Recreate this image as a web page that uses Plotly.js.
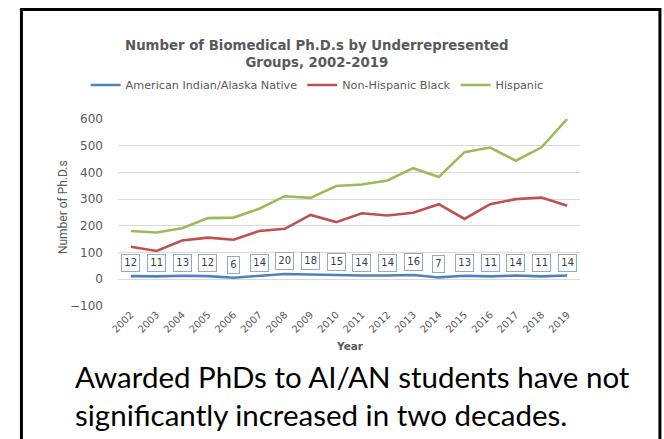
<!DOCTYPE html>
<html>
<head>
<meta charset="utf-8">
<script src="https://cdn.plot.ly/plotly-3.0.1.min.js"></script>
<style>html,body{margin:0;padding:0;background:#fff;}#chart{width:664px;height:439px;}</style>
</head>
<body>
<div id="chart"></div>
<script>
var years = ["2002","2003","2004","2005","2006","2007","2008","2009","2010","2011","2012","2013","2014","2015","2016","2017","2018","2019"];
var aian = [12,11,13,12,6,14,20,18,15,14,14,16,7,13,11,14,11,14];
var black = [122,106,145,156,148,181,189,241,214,247,239,249,281,226,281,300,306,275];
var hispanic = [181,175,191,229,231,264,311,305,349,355,370,416,383,476,493,444,494,600];
var seriesNames = ["American Indian/Alaska Native","Non-Hispanic Black","Hispanic"];
var colors = ["#4F81BD","#C0504D","#9BBB59"];
var yTicks = [-100,0,100,200,300,400,500,600];

var gray = "#595959";
var font = "'DejaVu Sans', 'Open Sans', sans-serif";

var traces = [aian, black, hispanic].map(function(v, i){
  return {x: years, y: v, type: "scatter", mode: "lines", name: seriesNames[i],
          line: {color: colors[i], width: 2.6}};
});

var anns = [];
years.forEach(function(yr, i){
  anns.push({x: i, y: aian[i], xref: "x", yref: "y", text: String(aian[i]), showarrow: false,
    xanchor: "center", yanchor: "middle", yshift: 13,
    font: {family: font, size: 10, color: "#404040"},
    bordercolor: "#8FAACC", borderwidth: 1, borderpad: 2.3, bgcolor: "#fff"});
});
anns.push({xref: "paper", yref: "paper", x: 0.431, y: 1.345, xanchor: "center", yanchor: "middle", showarrow: false,
  text: "<b>Number of Biomedical Ph.D.s by Underrepresented<br>Groups, 2002-2019</b>",
  font: {family: font, size: 13.3, color: gray}, align: "center"});
anns.push({xref: "paper", yref: "paper", x: -0.119, y: 0.529, xanchor: "center", yanchor: "middle", showarrow: false, textangle: -90,
  text: "Number of Ph.D.s", font: {family: "'Liberation Sans Narrow', 'Roboto', sans-serif", size: 12, color: gray}});
anns.push({xref: "paper", yref: "paper", x: 0.502, y: -0.214, xanchor: "center", yanchor: "middle", showarrow: false,
  text: "<b>Year</b>", font: {family: font, size: 10.5, color: gray}});
anns.push({xref: "paper", yref: "paper", x: -0.0974, xanchor: "left", y: -0.48, yanchor: "middle", showarrow: false, align: "left",
  text: "Awarded PhDs to AI/AN students have not<br>significantly increased in two decades.",
  font: {family: "Lato, 'Noto Sans', sans-serif", size: 29.5, color: "#000"}});

var layout = {
  width: 664, height: 439,
  margin: {l: 118, r: 84, t: 119, b: 133},
  paper_bgcolor: "#fff", plot_bgcolor: "#fff",
  showlegend: true,
  legend: {orientation: "h", x: 0.431, xanchor: "center", y: 1.182, yanchor: "middle",
    font: {family: font, size: 11.2, color: gray}, itemwidth: 30, tracegroupgap: 0},
  xaxis: {type: "category", range: [-0.5, 17.5], showgrid: false, zeroline: false, showline: false,
    tickangle: -45, tickfont: {family: font, size: 10, color: gray}, ticks: "", fixedrange: true},
  yaxis: {range: [-100, 600], tickvals: yTicks, showgrid: true, gridcolor: "#D9D9D9", gridwidth: 1,
    zeroline: false, showline: false, ticks: "", tickfont: {family: font, size: 12, color: gray},
    ticklabelstandoff: 14, fixedrange: true},
  annotations: anns,
  shapes: [{type: "rect", xref: "paper", yref: "paper", x0: -0.209, x1: 1.173, y0: -0.75, y1: 1.5856,
    line: {color: "#000", width: 3}, fillcolor: "rgba(0,0,0,0)", layer: "above"}]
};

Plotly.newPlot("chart", traces, layout, {displayModeBar: false, staticPlot: true});
</script>
</body>
</html>
